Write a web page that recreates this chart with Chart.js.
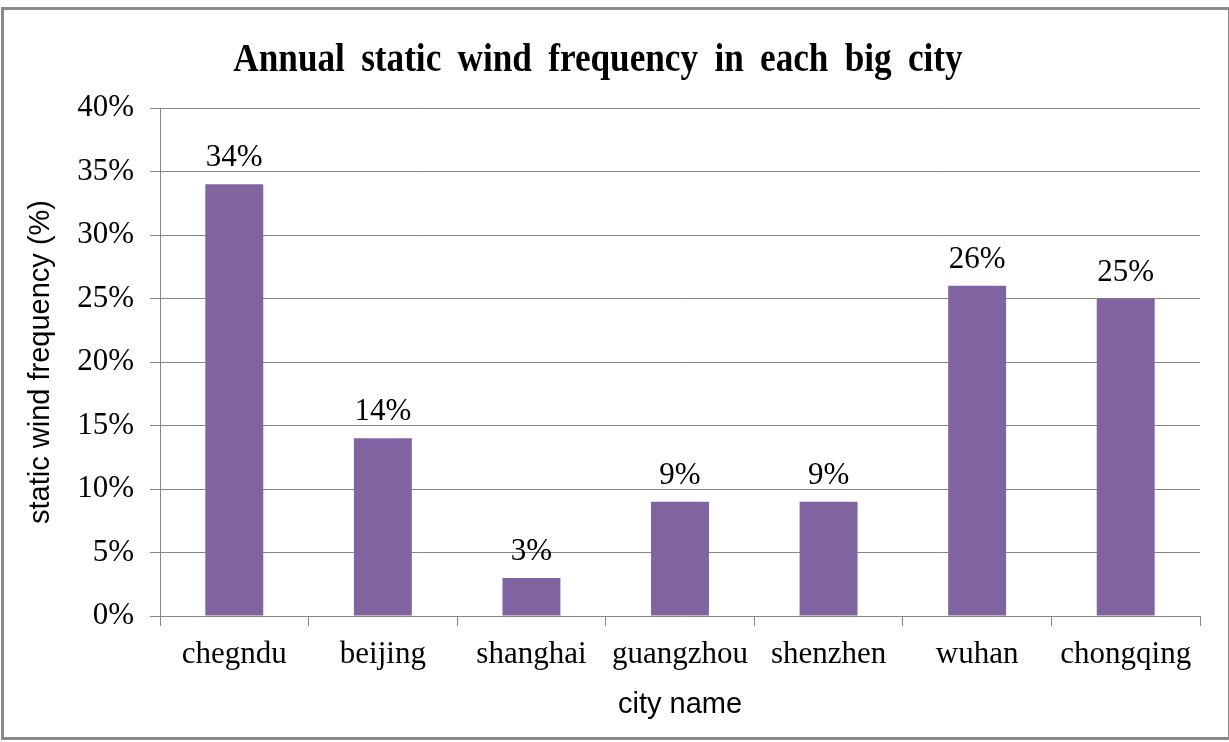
<!DOCTYPE html>
<html lang="en">
<head>
    <meta charset="UTF-8">
    <title>Annual static wind frequency in each big city</title>
    <script src="https://cdn.jsdelivr.net/npm/chart.js"></script>
    <style>
        html, body {
            margin: 0;
            padding: 0;
            background: #ffffff;
        }
        .border {
            position: absolute;
            left: 1px;
            top: 7px;
            width: 1224px;
            height: 727px;
            border: 3px solid #8a8a8a;
            pointer-events: none;
        }
        canvas {
            position: absolute;
            left: 0;
            top: 0;
        }
    </style>
</head>
<body>
    <canvas id="windChart" width="1229" height="742"></canvas>
    <div class="border"></div>
    <script>
        // chart data
        const cities = ['chegndu', 'beijing', 'shanghai', 'guangzhou', 'shenzhen', 'wuhan', 'chongqing'];
        const staticWind = [34, 14, 3, 9, 9, 26, 25];
        const yTicks = [0, 5, 10, 15, 20, 25, 30, 35, 40];
        const chartTitle = 'Annual static wind frequency in each big city';

        const serif = "'Liberation Serif', 'Times New Roman', serif";
        const sans = "'Liberation Sans', Arial, sans-serif";
        const gridColor = '#868686';

        // draws the value above each bar
        const valueLabels = {
            id: 'valueLabels',
            afterDatasetsDraw(chart) {
                const ctx = chart.ctx;
                const meta = chart.getDatasetMeta(0);
                ctx.save();
                ctx.font = '31px ' + serif;
                ctx.fillStyle = '#000000';
                ctx.textAlign = 'center';
                ctx.textBaseline = 'alphabetic';
                meta.data.forEach((bar, i) => {
                    ctx.fillText(staticWind[i] + '%', bar.x, bar.y - 18);
                });
                ctx.restore();
            }
        };

        // the title in the original is a slightly narrow bold serif with wide word gaps
        const condensedTitle = {
            id: 'condensedTitle',
            afterDraw(chart) {
                const ctx = chart.ctx;
                ctx.save();
                ctx.font = 'bold 40px ' + serif;
                ctx.fillStyle = '#000000';
                ctx.textAlign = 'center';
                ctx.textBaseline = 'alphabetic';
                if ('wordSpacing' in ctx) ctx.wordSpacing = '8.5px';
                ctx.translate(598, 71);
                ctx.scale(0.88, 1);
                ctx.fillText(chartTitle, 0, 0);
                ctx.restore();
            }
        };

        new Chart(document.getElementById('windChart'), {
            type: 'bar',
            data: {
                labels: cities,
                datasets: [{
                    label: 'static wind frequency',
                    data: staticWind,
                    backgroundColor: '#8064a2',
                    borderWidth: 0,
                    categoryPercentage: 1,
                    barPercentage: 0.39
                }]
            },
            options: {
                responsive: false,
                animation: false,
                layout: {
                    padding: { left: 0, right: 29, top: 108, bottom: 10 }
                },
                plugins: {
                    legend: { display: false },
                    tooltip: { enabled: false },
                    title: { display: false }
                },
                scales: {
                    x: {
                        offset: true,
                        grid: {
                            offset: true,
                            drawOnChartArea: false,
                            drawTicks: true,
                            tickLength: 10,
                            color: gridColor
                        },
                        border: { display: true, color: gridColor, width: 1 },
                        ticks: {
                            color: '#000000',
                            padding: 10,
                            maxRotation: 0,
                            autoSkip: false,
                            font: { family: serif, size: 31 }
                        },
                        title: {
                            display: true,
                            text: 'city name',
                            color: '#000000',
                            font: { family: sans, size: 29 },
                            padding: { top: 4, bottom: 10 }
                        }
                    },
                    y: {
                        min: 0,
                        max: 40,
                        afterBuildTicks(scale) {
                            scale.ticks = yTicks.map(v => ({ value: v }));
                        },
                        afterFit(scale) {
                            scale.width = 160;
                        },
                        grid: {
                            color: gridColor,
                            drawTicks: true,
                            tickLength: 10
                        },
                        border: { display: true, color: gridColor, width: 1 },
                        ticks: {
                            color: '#000000',
                            padding: 16,
                            font: { family: serif, size: 31 },
                            callback: v => v + '%'
                        },
                        title: {
                            display: true,
                            text: 'static wind frequency (%)',
                            color: '#000000',
                            font: { family: sans, size: 29 },
                            padding: { top: 24, bottom: 0 }
                        }
                    }
                }
            },
            plugins: [valueLabels, condensedTitle]
        });
    </script>
</body>
</html>
